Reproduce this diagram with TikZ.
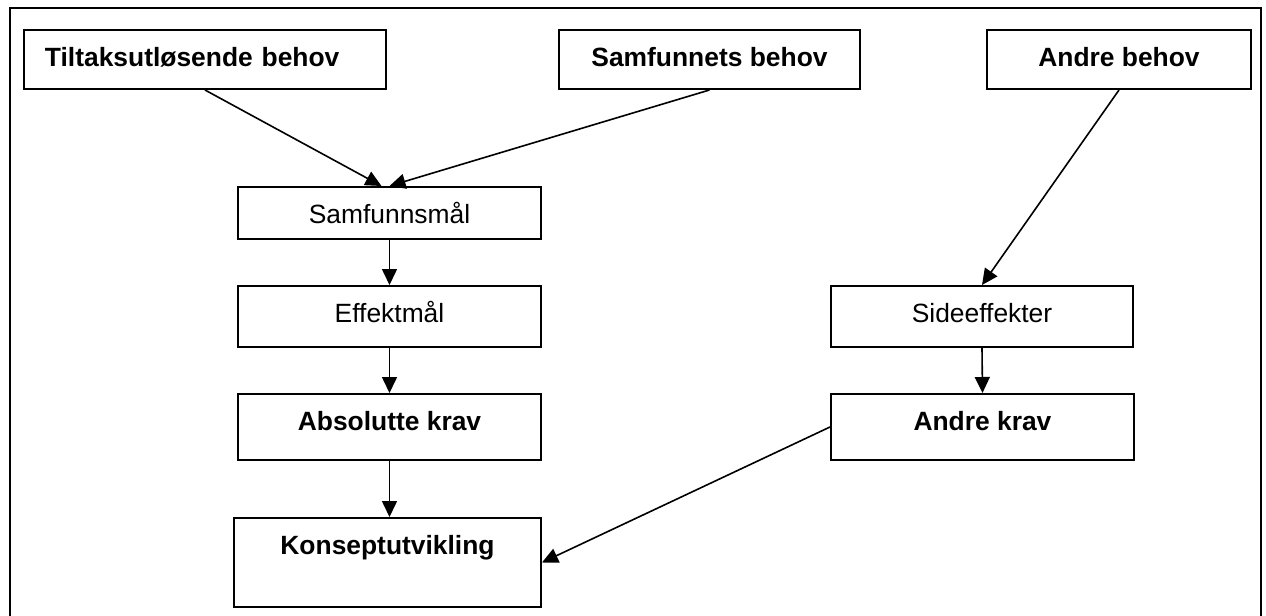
\documentclass[tikz,border=0pt]{standalone}
\usepackage{fontspec}
\setmainfont{Liberation Sans}
\usetikzlibrary{arrows.meta}

\begin{document}
\begin{tikzpicture}[x=0.5pt,y=-0.5pt,
	boks/.style={draw, line width=1pt, anchor=north west, inner ysep=0pt, text height=18pt, font=\fontsize{13.2}{16}\selectfont},
	pil/.style={-{Triangle[length=8pt,width=7.5pt]}, line width=0.8pt}]
	\useasboundingbox (0,0) rectangle (1266,616);
	\draw[line width=1pt] (10,8) rectangle (1261,640);

	\node (tiltak) [boks, text depth=11.5pt, inner xsep=10.5pt, text width=160pt, align=left] at (23,29) {\bfseries Tiltaksutløsende behov};
	\node (samfbehov) [boks, text depth=11.5pt, minimum width=150.5pt] at (558,29) {\bfseries Samfunnets behov};
	\node (andrebehov) [boks, text depth=11.5pt, minimum width=132pt] at (986,29) {\bfseries Andre behov};

	\node (samfmaal) [boks, text depth=8pt, minimum width=151.5pt] at (237,186) {Samfunnsmål};
	\node (effekt) [boks, text depth=12.5pt, minimum width=151.5pt] at (237,285) {Effektmål};
	\node (absolutt) [boks, text depth=15pt, minimum width=151.5pt] at (237,393) {\bfseries Absolutte krav};
	\node (konsept) [boks, text depth=26.5pt, minimum width=153.5pt] at (233,517) {\bfseries Konseptutvikling};

	\node (sideeff) [boks, text depth=12.5pt, minimum width=151pt] at (830,285) {Sideeffekter};
	\node (andrekrav) [boks, text depth=15pt, minimum width=151.5pt] at (830,393) {\bfseries Andre krav};

	\draw[pil] (tiltak.south) -- ([xshift=-4pt]samfmaal.north);
	\draw[pil] (samfbehov.south) -- (samfmaal.north);
	\draw[pil] (samfmaal.south) -- (effekt.north);
	\draw[pil] (effekt.south) -- (absolutt.north);
	\draw[pil] (absolutt.south) -- (absolutt.south |- konsept.north);
	\draw[pil] (andrebehov.south) -- (sideeff.north);
	\draw[pil] (sideeff.south) -- (andrekrav.north);
	\draw[pil] (andrekrav.west) -- (konsept.east);
\end{tikzpicture}
\end{document}
